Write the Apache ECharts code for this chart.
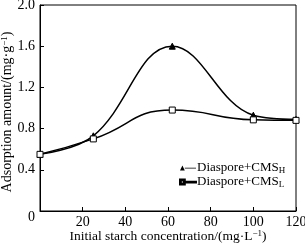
<!DOCTYPE html>
<html><head><meta charset="utf-8">
<script src="https://cdn.jsdelivr.net/npm/echarts@6/dist/echarts.min.js"></script>
<style>html,body{margin:0;padding:0;background:#fff}#c{width:305px;height:243px}</style>
</head><body><div id="c"></div>
<script>
const xH = [0, 25, 62, 100, 120];
const yH = [0.55, 0.73, 1.60, 0.93, 0.89];
const xL = [0, 25, 62, 100, 120];
const yL = [0.55, 0.70, 0.98, 0.885, 0.88];
const xTicks = [0, 20, 40, 60, 80, 100, 120];
const yTicks = [0, 0.4, 0.8, 1.2, 1.6, 2.0];
const F = 'Liberation Serif';
const chart = echarts.init(document.getElementById('c'));
const pair = (xs, ys) => xs.map((x, i) => [x, ys[i]]);
chart.setOption({
  animation: false,
  grid: {left: 40, right: 9, top: 5, bottom: 32, show: true, borderColor: '#000', borderWidth: 1,
    containLabel: false, outerBoundsMode: 'none'},
  xAxis: {
    type: 'value', min: 0, max: 120, interval: 20,
    axisLine: {lineStyle: {color: '#000', width: 1}},
    axisTick: {inside: true, length: 4, lineStyle: {color: '#000'}},
    splitLine: {show: false},
    axisLabel: {color: '#000', fontFamily: F, fontSize: 14, margin: 4, showMinLabel: false},
    name: 'Initial starch concentration/(mg·L{s|−1})',
    nameLocation: 'middle', nameGap: 18, nameMoveOverlap: false,
    nameTextStyle: {color: '#000', fontFamily: F, fontSize: 13.5,
      rich: {s: {fontSize: 9, fontFamily: F, verticalAlign: 'top', color: '#000'}}}
  },
  yAxis: {
    type: 'value', min: 0, max: 2.0, interval: 0.4,
    axisLine: {lineStyle: {color: '#000', width: 1}},
    axisTick: {inside: true, length: 4, lineStyle: {color: '#000'}},
    splitLine: {show: false},
    axisLabel: {color: '#000', fontFamily: F, fontSize: 14, margin: 5,
      formatter: v => v === 0 ? '{z|0}' : v.toFixed(1),
      rich: {z: {fontFamily: F, fontSize: 14, color: '#000', padding: [12, 0, 0, 0]}}},
    name: 'Adsorption amount/(mg·g{s|−1})',
    nameLocation: 'middle', nameGap: 26, nameMoveOverlap: false,
    nameTextStyle: {color: '#000', fontFamily: F, fontSize: 14, padding: [0, 8, 0, 0],
      rich: {s: {fontSize: 9, fontFamily: F, verticalAlign: 'top', color: '#000'}}}
  },
  legend: {
    orient: 'vertical', left: 174, top: 156, itemGap: 0,
    itemWidth: 16, itemHeight: 5,
    textStyle: {color: '#000', fontFamily: F, fontSize: 13, lineHeight: 14, padding: [0, 0, 0, -4],
      rich: {s: {fontSize: 9, fontFamily: F, verticalAlign: 'bottom', color: '#000'}}},
    formatter: n => n === 'H' ? 'Diaspore+CMS{s|H}' : 'Diaspore+CMS{s|L}',
    data: [
      {name: 'H', icon: 'path://M0,8 L3,2 L6,8 Z M6,4.6 L20,4.6 L20,5.6 L6,5.6 Z', itemStyle: {color: '#000'}},
      {name: 'L', icon: 'path://M0,2 H6 V8 H0 Z M1,3 V7 H5 V3 Z M6,4.6 H20 V5.6 H6 Z', itemStyle: {color: '#000'}}
    ]
  },
  series: [
    {name: 'H', type: 'line', data: pair(xH, yH), smooth: 0.4,
      symbol: 'triangle', symbolSize: 6,
      lineStyle: {color: '#000', width: 1.5}, itemStyle: {color: '#000', borderColor: '#000'}},
    {name: 'L', type: 'line', data: pair(xL, yL), smooth: 0.5,
      symbol: 'rect', symbolSize: 6,
      lineStyle: {color: '#000', width: 1.5}, itemStyle: {color: '#fff', borderColor: '#000', borderWidth: 1}}
  ]
});
</script></body></html>
